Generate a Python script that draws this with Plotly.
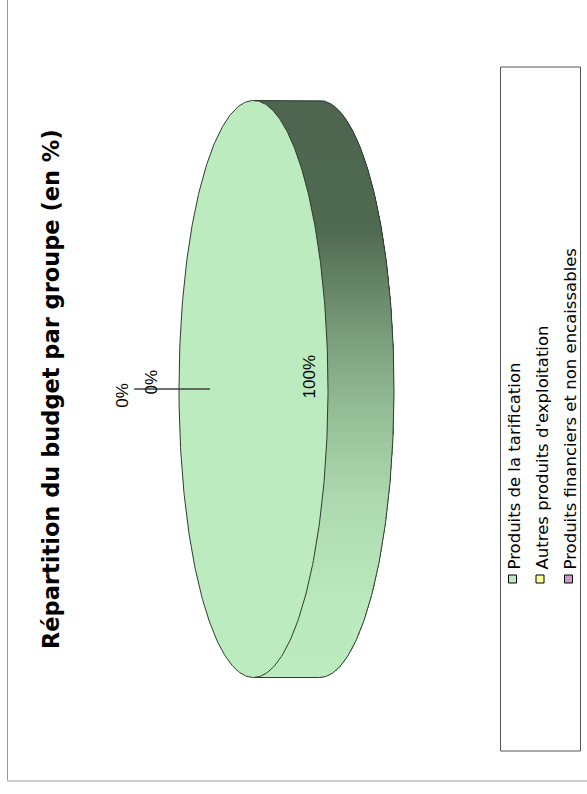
import numpy as np
import plotly.graph_objects as go

# ---- data -----------------------------------------------------------------
categories = [
    "Produits de la tarification",
    "Autres produits d'exploitation",
    "Produits financiers et non encaissables",
]
shares = [100, 0, 0]
slice_colors = ["#BCEBBF", "#FFFF99", "#CC99CC"]
chart_title = "Répartition du budget par groupe (en %)"

# ---- page geometry (pixel frame, the sheet is laid out rotated) ----------
W, H = 587, 794
cx, cy = 253.5, 389.0      # centre of the top face
rx, ry = 74.5, 288.5       # semi axes of the top face
depth = 66.0               # thickness of the disc, drawn towards +x
OUTLINE = "#2E3B2E"

# band shading, darkest at the top of the page, lightest at the bottom
band_stops = [
    (100, (78, 101, 79)),
    (230, (80, 106, 81)),
    (330, (120, 154, 121)),
    (420, (151, 192, 153)),
    (500, (174, 217, 176)),
    (600, (185, 233, 188)),
    (680, (188, 235, 191)),
]


def band_color(y):
    ys = [s[0] for s in band_stops]
    rgb = [np.interp(y, ys, [s[1][k] for s in band_stops]) for k in range(3)]
    return "rgb(%d,%d,%d)" % tuple(int(round(v)) for v in rgb)


def face_point(theta, r=1.0, dx=0.0):
    """theta in degrees, clockwise from the 12 o'clock position of the pie."""
    t = np.radians(theta)
    return cx + dx - r * rx * np.cos(t), cy - r * ry * np.sin(t)


fig = go.Figure()

# ---- side band of the disc ------------------------------------------------
# each piece runs from its own top down to the bottom of the band, so the
# next piece paints over it and no seams are left between the shades
n_strips = 120
edges = np.linspace(cy - ry, cy + ry, n_strips + 1)
step = edges[1] - edges[0]
for y0 in edges[:-1]:
    phi0 = np.arccos(np.clip((cy - y0) / ry, -1, 1))
    phi = np.linspace(phi0, np.pi, 200)
    ys = cy - ry * np.cos(phi)
    xl = cx + rx * np.sin(phi)
    px = list(xl) + list((xl + depth)[::-1])
    py = list(ys) + list(ys[::-1])
    col = band_color(y0 + 0.5 * step)
    fig.add_trace(go.Scatter(
        x=px, y=py, mode="lines", fill="toself", fillcolor=col,
        line=dict(color=col, width=0), hoverinfo="skip", showlegend=False))

# outline of the outer band edge
th = np.linspace(90, 270, 200)
ox, oy = face_point(th, dx=depth)
ox = np.concatenate([[cx], ox, [cx]])
oy = np.concatenate([[cy - ry], oy, [cy + ry]])
fig.add_trace(go.Scatter(x=ox, y=oy, mode="lines",
                         line=dict(color=OUTLINE, width=1),
                         hoverinfo="skip", showlegend=False))

# ---- top face: one wedge per slice ----------------------------------------
total = float(sum(shares))
start = 0.0
slice_angles = []
for val, col in zip(shares, slice_colors):
    span = 360.0 * val / total
    a0, a1 = start, start + span
    slice_angles.append((a0, a1))
    if span > 0:
        th = np.linspace(a0, a1, 400)
        px, py = face_point(th)
        if span < 360:
            px = np.concatenate([[cx], px, [cx]])
            py = np.concatenate([[cy], py, [cy]])
        fig.add_trace(go.Scatter(
            x=px, y=py, mode="lines", fill="toself", fillcolor=col,
            line=dict(color=OUTLINE, width=1),
            hoverinfo="skip", showlegend=False))
    start = a1

# ---- slice labels -----------------------------------------------------------
label_font = dict(family="Liberation Sans, Arial, sans-serif", size=17, color="#000000")
outside_offsets = [(1.77, 6), (1.37, -7)]  # radius factor, shift along y
k_out = 0
for val, (a0, a1) in zip(shares, slice_angles):
    mid = 0.5 * (a0 + a1)
    text = f"{val:.0f}%"
    if val > 0:
        lx, ly = face_point(mid, r=0.75)
        fig.add_annotation(x=lx, y=ly - 12, text=text, textangle=-90, showarrow=False,
                           xanchor="center", yanchor="middle", font=label_font)
    else:
        # leader line from inside the face out to the label
        x_in, y_in = face_point(mid % 360, r=0.585)
        x_out, y_out = face_point(mid % 360, r=1.6)
        fig.add_trace(go.Scatter(x=[x_in, x_out], y=[y_in, y_out], mode="lines",
                                 line=dict(color="#404040", width=1),
                                 hoverinfo="skip", showlegend=False))
        rf, dy = outside_offsets[k_out % len(outside_offsets)]
        lx, ly = face_point(mid % 360, r=rf)
        fig.add_annotation(x=lx, y=ly + dy, text=text, textangle=-90, showarrow=False,
                           xanchor="center", yanchor="middle", font=label_font)
        k_out += 1

# ---- title -----------------------------------------------------------------
fig.add_annotation(x=51, y=389, text=f"<b>{chart_title}</b>", textangle=-90,
                   showarrow=False, xanchor="center", yanchor="middle",
                   font=dict(family="DejaVu Sans, Verdana, sans-serif", size=22.5,
                             color="#000000"))

# ---- legend ----------------------------------------------------------------
legend_x = [512.5, 540.0, 568.5]
legend_marker_y = 579.0
fig.add_trace(go.Scatter(
    x=legend_x, y=[legend_marker_y] * len(categories), mode="markers",
    marker=dict(symbol="square", size=8, color=slice_colors,
                line=dict(color="#000000", width=1)),
    hoverinfo="skip", showlegend=False))
for lx, name in zip(legend_x, categories):
    fig.add_annotation(x=lx + 1.5, y=572, text=name, textangle=-90, showarrow=False,
                       xanchor="center", yanchor="bottom",
                       font=dict(family="DejaVu Sans, Verdana, sans-serif", size=16.5,
                                 color="#000000"))

shapes = [
    # legend frame
    dict(type="rect", xref="x", yref="y", x0=500.5, x1=580.5, y0=67, y1=751,
         line=dict(color="#555555", width=1), fillcolor="rgba(0,0,0,0)"),
    # chart area frame
    dict(type="line", xref="x", yref="y", x0=7.5, x1=7.5, y0=0, y1=781,
         line=dict(color="#9A9A9A", width=1)),
    dict(type="line", xref="x", yref="y", x0=7, x1=W, y0=781, y1=781,
         line=dict(color="#CCCCCC", width=2)),
]

fig.update_layout(
    width=W, height=H,
    margin=dict(l=0, r=0, t=0, b=0),
    paper_bgcolor="#FFFFFF", plot_bgcolor="#FFFFFF",
    shapes=shapes,
    xaxis=dict(range=[0, W], visible=False, fixedrange=True),
    yaxis=dict(range=[H, 0], visible=False, fixedrange=True),
    showlegend=False,
)

fig.write_html("out.html")
